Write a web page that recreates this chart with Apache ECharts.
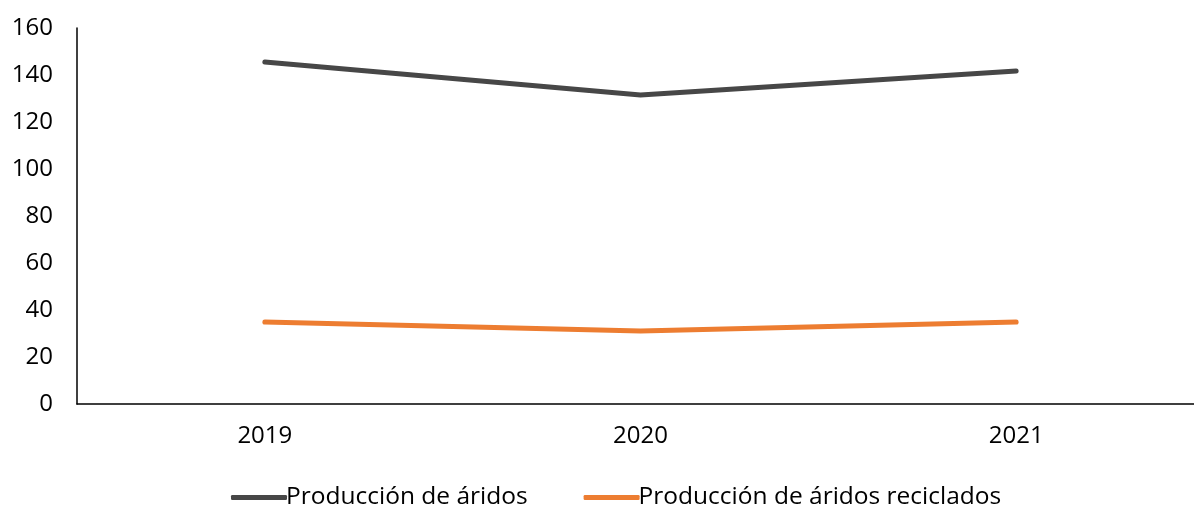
<!DOCTYPE html>
<html>
<head>
<meta charset="UTF-8">
<title>Producción de áridos</title>
<script src="https://cdn.jsdelivr.net/npm/echarts@6/dist/echarts.min.js"></script>
<style>
  html, body { margin: 0; padding: 0; background: #fff; }
  #chart { width: 1194px; height: 512px; }
</style>
</head>
<body>
<div id="chart"></div>
<script>
// datos
var years = ['2019', '2020', '2021'];
var aridos = [145.5, 131.5, 141.7];
var aridosReciclados = [34.9, 31.1, 34.9];
var seriesNames = ['Producción de áridos', 'Producción de áridos reciclados'];

var chart = echarts.init(document.getElementById('chart'));
var font = '"Open Sans", "Noto Sans", sans-serif';

chart.setOption({
  animation: false,
  color: ['#474747', '#ED7D31'],
  grid: { left: 77, right: -10, top: 28, bottom: 108, outerBoundsMode: 'none' },
  legend: {
    bottom: -3,
    left: 226,
    itemWidth: 56,
    itemHeight: 5,
    itemGap: 56,
    icon: 'roundRect',
    textStyle: { fontFamily: font, fontSize: 24.5, color: '#000', padding: [0, 0, 0, -6] },
    data: seriesNames
  },
  xAxis: {
    type: 'category',
    data: years,
    boundaryGap: true,
    axisLine: { lineStyle: { color: '#000', width: 1.5 } },
    axisTick: { show: false },
    axisLabel: { fontFamily: font, fontSize: 24, color: '#000', margin: 20 }
  },
  yAxis: {
    type: 'value',
    min: 0,
    max: 160,
    interval: 20,
    axisLine: { show: true, lineStyle: { color: '#000', width: 1.5 } },
    axisTick: { show: false },
    splitLine: { show: false },
    axisLabel: { fontFamily: font, fontSize: 24, color: '#000', margin: 24 }
  },
  series: [
    {
      name: seriesNames[0],
      type: 'line',
      data: aridos,
      symbol: 'none',
      lineStyle: { width: 5, cap: 'round', join: 'round' }
    },
    {
      name: seriesNames[1],
      type: 'line',
      data: aridosReciclados,
      symbol: 'none',
      lineStyle: { width: 5, cap: 'round', join: 'round' }
    }
  ]
});
</script>
</body>
</html>
